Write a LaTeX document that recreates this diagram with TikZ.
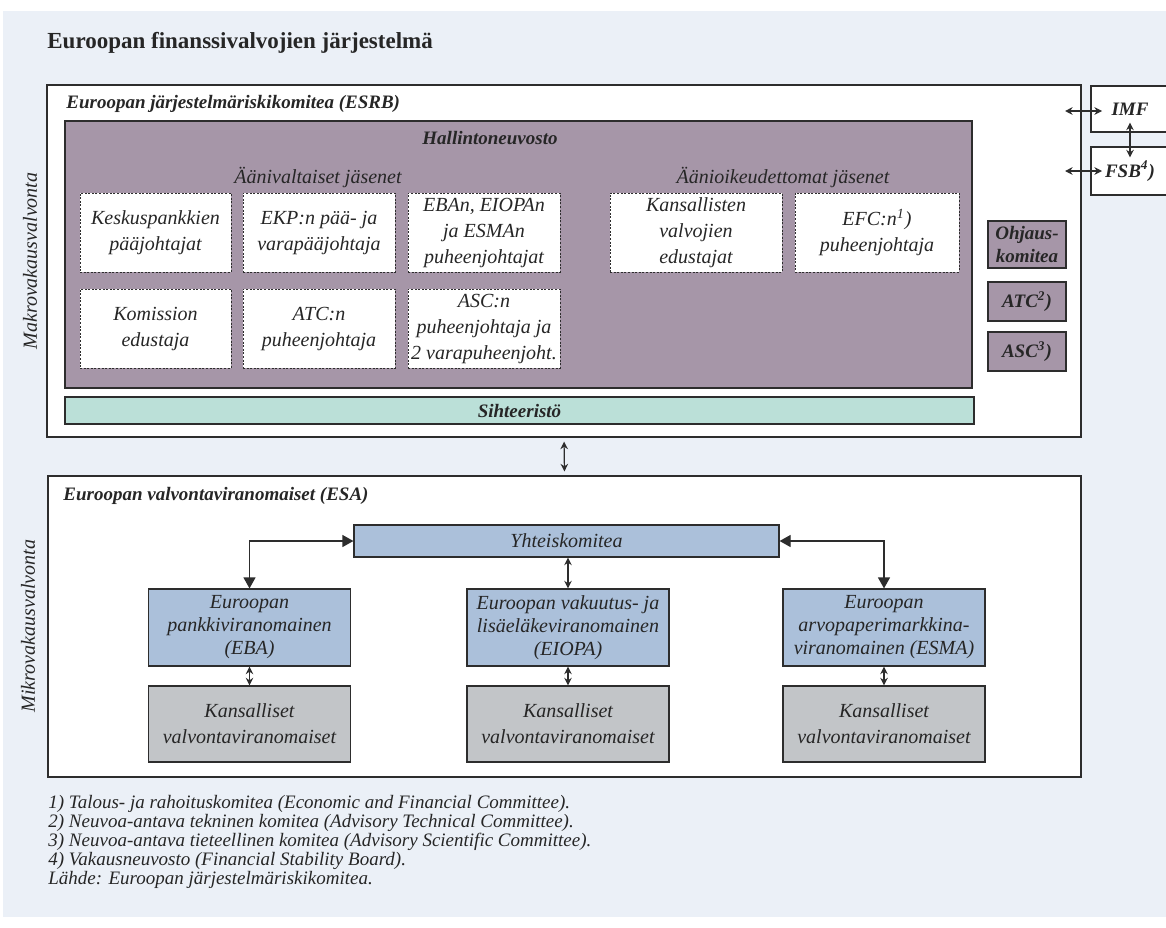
\documentclass[tikz,border=0pt]{standalone}
\usepackage{fontspec}
\setmainfont{Liberation Serif}
\usepackage{tikz}
\usetikzlibrary{arrows.meta}
\definecolor{bgblue}{RGB}{235,240,247}
\definecolor{hallpurple}{RGB}{166,150,168}
\definecolor{sihteal}{RGB}{187,224,216}
\definecolor{esablue}{RGB}{171,192,218}
\definecolor{natgray}{RGB}{194,197,200}
\definecolor{linegray}{RGB}{45,45,45}

\begin{document}
\begin{tikzpicture}[x=0.5pt,y=-0.5pt,
  txt/.style={font=\fontsize{10}{13}\selectfont\itshape, align=center, inner sep=0pt, text=black!85},
  btxt/.style={txt, font=\fontsize{9.5}{11.5}\selectfont\bfseries\itshape},
  frame/.style={draw=linegray, line width=0.6pt, fill=white},
  member/.style={txt, draw=linegray, line width=0.5pt, dash pattern=on 1pt off 0.8pt, fill=white, minimum height=39.5pt},
  side/.style={btxt, draw=linegray, line width=0.6pt, fill=hallpurple, minimum width=39pt},
  esabox/.style={txt, font=\fontsize{10}{11.5}\selectfont\itshape, draw=linegray, line width=0.6pt, fill=esablue, minimum width=101pt, minimum height=38.5pt},
  natbox/.style={txt, draw=linegray, line width=0.6pt, fill=natgray, minimum width=101pt, minimum height=38pt},
  sarrow/.style={{Stealth[length=3.8pt,width=3.8pt]}-{Stealth[length=3.8pt,width=3.8pt]}, line width=0.6pt, draw=linegray},
  barrow/.style={{Triangle[length=5.5pt,width=6pt]}-{Triangle[length=5.5pt,width=6pt]}, line width=0.6pt, draw=linegray}]

\useasboundingbox (0,0) rectangle (1166,927);
\fill[bgblue] (3,11) rectangle (1166,917);

\node[anchor=base west, inner sep=0pt, font=\fontsize{11.5}{13}\selectfont\bfseries, text=black!85] (title) at (47,48) {Euroopan finanssivalvojien järjestelmä};

% ESRB
\node[frame, minimum width=517pt, minimum height=176pt] (esrb) at (564,261) {};
\node[btxt, anchor=base west] (esrbt) at (66,108) {Euroopan järjestelmäriskikomitea (ESRB)};
\node[txt, rotate=90] (makro) at (30,261) {Makrovakausvalvonta};

\node[draw=linegray, line width=0.6pt, fill=hallpurple, minimum width=453.5pt, minimum height=133.5pt] (hallinto) at (518.5,254.5) {};
\node[btxt] (hallt) at (490,138) {Hallintoneuvosto};
\node[txt] (vote) at (318,177) {Äänivaltaiset jäsenet};
\node[txt] (novote) at (783,177) {Äänioikeudettomat jäsenet};

\node[member, minimum width=75.5pt] (m1) at (155.5,232.5) {Keskuspankkien\\pääjohtajat};
\node[member, minimum width=76pt] (m2) at (319,232.5) {EKP:n pää- ja\\varapääjohtaja};
\node[member, minimum width=76pt] (m3) at (484,232.5) {EBAn, EIOPAn\\ja ESMAn\\puheenjohtajat};
\node[member, minimum width=86pt] (m4) at (696,232.5) {Kansallisten\\valvojien\\edustajat};
\node[member, minimum width=82pt] (m5) at (877,232.5) {EFC:n\textsuperscript{1})\\puheenjohtaja};
\node[member, minimum width=75.5pt] (m6) at (155.5,328.5) {Komission\\edustaja};
\node[member, minimum width=76pt] (m7) at (319,328.5) {ATC:n\\puheenjohtaja};
\node[member, minimum width=76pt] (m8) at (484,328.5) {ASC:n\\puheenjohtaja ja\\2 varapuheenjoht.};

\node[btxt, draw=linegray, line width=0.6pt, fill=sihteal, minimum width=454.5pt, minimum height=13.5pt] (siht) at (519.5,410.5) {Sihteeristö};

\node[side, minimum height=23.5pt] (ohj) at (1027,244.5) {Ohjaus-\\komitea};
\node[side, minimum height=19.5pt] (atc) at (1027,301.5) {ATC\textsuperscript{2})};
\node[side, minimum height=19.5pt] (asc) at (1027,351.5) {ASC\textsuperscript{3})};

\node[draw=linegray, line width=0.6pt, fill=white, minimum width=50pt, minimum height=23pt] (imf) at (1141,109) {};
\node[draw=linegray, line width=0.6pt, fill=white, minimum width=50pt, minimum height=24pt] (fsb) at (1141,171) {};
\node[btxt] (imft) at (1130,109) {IMF};
\node[btxt] (fsbt) at (1130,171) {FSB\textsuperscript{4})};
\coordinate (imfa) at (1065,111);
\coordinate (imfb) at (1102,111);
\coordinate (fsba) at (1065,171);
\coordinate (fsbb) at (1102,171);
\draw[sarrow] (imfa) -- (imfb);
\draw[sarrow] (fsba) -- (fsbb);
\draw[sarrow] ([yshift=5pt]imf.south -| imft) -- ([yshift=-5.5pt]fsb.north -| fsbt);

% ESA
\node[frame, minimum width=516.5pt, minimum height=150.5pt] (esa) at (564.5,626.5) {};
\node[btxt, anchor=base west] (esat) at (63,500) {Euroopan valvontaviranomaiset (ESA)};
\node[txt, rotate=90] (mikro) at (28,626) {Mikrovakausvalvonta};
\draw[sarrow, shorten <=2pt, shorten >=2pt] (esrb.south) -- (esa.north);

\node[txt, draw=linegray, line width=0.6pt, fill=esablue, minimum width=212.5pt, minimum height=16pt] (yk) at (566.5,541) {Yhteiskomitea};
\node[esabox] (eba) at (249.5,627.5) {Euroopan\\pankkiviranomainen\\(EBA)};
\node[esabox] (eiopa) at (568,627.5) {Euroopan vakuutus- ja\\lisäeläkeviranomainen\\(EIOPA)};
\node[esabox] (esma) at (884,627.5) {Euroopan\\arvopaperimarkkina-\\viranomainen (ESMA)};
\node[natbox] (ebag) at (249.5,724) {Kansalliset\\valvontaviranomaiset};
\node[natbox] (eiopag) at (568,724) {Kansalliset\\valvontaviranomaiset};
\node[natbox] (esmag) at (884,724) {Kansalliset\\valvontaviranomaiset};

\draw[barrow] (yk.west) -| (eba.north);
\draw[barrow] (yk.east) -| (esma.north);
\draw[sarrow] (eiopa.north |- yk.south) -- (eiopa.north);
\draw[sarrow] (eba.south) -- (ebag.north);
\draw[sarrow] (eiopa.south) -- (eiopag.north);
\draw[sarrow] (esma.south) -- (esmag.north);

% alaviitteet
\node[anchor=north west, align=left, inner sep=0pt, font=\fontsize{9.5}{9.5}\selectfont\itshape, text=black!85] (notes) at (48,795) {1) Talous- ja rahoituskomitea (Economic and Financial Committee).\\
2) Neuvoa-antava tekninen komitea (Advisory Technical Committee).\\
3) Neuvoa-antava tieteellinen komitea (Advisory Scientific Committee).\\
4) Vakausneuvosto (Financial Stability Board).\\
Lähde: Euroopan järjestelmäriskikomitea.};
\end{tikzpicture}
\end{document}
